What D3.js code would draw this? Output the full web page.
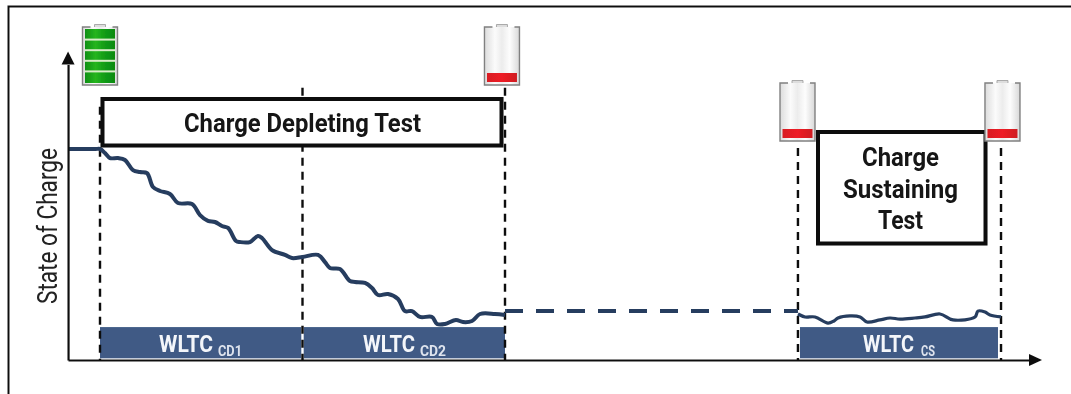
<!DOCTYPE html>
<html>
<head>
<meta charset="utf-8">
<script src="https://cdnjs.cloudflare.com/ajax/libs/d3/7.8.5/d3.min.js"></script>
<style>
  html, body { margin: 0; padding: 0; background: #fff; overflow: hidden; }
  text { font-family: "Roboto", "Liberation Sans", sans-serif; }
</style>
</head>
<body>
<div id="chart"></div>
<script>
// data: time in seconds of test, SOC in percent
var cdTime = [-284, -140, -40, 0, 44, 89, 160, 222, 293, 356, 418, 471, 533, 622, 693, 818, 889, 960, 1022, 1084, 1138, 1209, 1244, 1333, 1404, 1440, 1529, 1644, 1707, 1800, 1938, 2000, 2044, 2133, 2222, 2267, 2356, 2418, 2471, 2560, 2649, 2711, 2773, 2844, 2951, 2996, 3067, 3164, 3227, 3307, 3378, 3511, 3600];
var cdSoc = [100, 100, 100, 100, 98.1, 95.7, 95.7, 94.8, 90, 89.1, 88.6, 82, 80.1, 78.7, 74.4, 73.9, 68.7, 65.9, 65.4, 63.5, 62.6, 56.4, 55.9, 55.9, 58.8, 57.8, 52.1, 49.8, 48.3, 48.8, 49.8, 46.4, 43.6, 43.1, 37.4, 37, 36.5, 34.1, 30.8, 31.3, 28.9, 23.2, 23.2, 20.4, 20.4, 17.1, 17.1, 19, 18, 18.5, 21.8, 21.8, 21.3];
var csTime = [6204, 6267, 6356, 6471, 6524, 6560, 6667, 6756, 6818, 6933, 7022, 7111, 7244, 7333, 7467, 7582, 7778, 7804, 7867, 7911, 8009];
var csSoc = [21.8, 20.4, 20.4, 17.5, 18.5, 19.9, 20.9, 20.4, 18, 19, 19.9, 19.4, 19.9, 20.4, 21.8, 19, 20.4, 23.2, 22.7, 21.3, 20.4];
var linkTime = [3600, 6204];
var linkSoc = [23.2, 23.2];

var cycleStart = [0, 1800, 6222];
var cycleEnd = [1800, 3600, 7982];
var cycleName = ["CD1", "CD2", "CS"];
var markerTime = [0, 1800, 3600, 6204, 8009];
var markerTop = [120, 129, 129, 100.5, 100.5];  // soc level where the dashed line starts

var batteryTime = [0, 3573, 6200, 8022];
var batteryColor = ["green", "red", "red", "red"];

// svg params
var svgWidth = 1071;
var svgHeight = 394;

var svg = d3.select("#chart").append("svg")
  .attr("width", svgWidth)
  .attr("height", svgHeight)
  .style("display", "block");

var defs = svg.append("defs");
defs.append("filter").attr("id", "soft")
  .append("feGaussianBlur").attr("stdDeviation", 0.5);

function hGradient(id, stops) {
  var g = defs.append("linearGradient").attr("id", id);
  stops.forEach(s => g.append("stop").attr("offset", s[0]).attr("stop-color", s[1]));
}
hGradient("shell", [[0, "#dcdcdc"], [0.3, "#fbfbfb"], [0.5, "#ececec"], [0.72, "#fdfdfd"], [1, "#d8d8d8"]]);
hGradient("greenCell", [[0, "#0e8f12"], [0.35, "#25b51f"], [0.65, "#129c16"], [1, "#0c8a10"]]);
hGradient("redCell", [[0, "#d81c24"], [0.5, "#ee1c25"], [1, "#cf1a22"]]);

// scales
var xScale = d3.scaleLinear().domain([0, 3600]).range([100, 505]);
var yScale = d3.scaleLinear().domain([0, 100]).range([360, 149]);

var chart = svg.append("g").attr("filter", "url(#soft)");

// outer frame
chart.append("path")
  .attr("d", "M8.5,394V6.5H1071")
  .attr("fill", "none")
  .attr("stroke", "#111")
  .attr("stroke-width", 2);

// cycle bars
var barTop = 15.6, barBottom = 0.8;
cycleStart.forEach(function(s, i) {
  chart.append("rect")
    .attr("x", xScale(s))
    .attr("y", yScale(barTop))
    .attr("width", xScale(cycleEnd[i]) - xScale(s))
    .attr("height", yScale(barBottom) - yScale(barTop))
    .attr("fill", "#3f5a85");
});

// white under the middle marker inside the bar
chart.append("line")
  .attr("x1", xScale(1800)).attr("x2", xScale(1800))
  .attr("y1", yScale(barTop)).attr("y2", yScale(barBottom))
  .attr("stroke", "#fff").attr("stroke-width", 2.4);

// dashed markers
markerTime.forEach(function(t, i) {
  chart.append("line")
    .attr("x1", xScale(t)).attr("x2", xScale(t))
    .attr("y1", yScale(markerTop[i])).attr("y2", yScale(0))
    .attr("stroke", "#111")
    .attr("stroke-width", 2.4)
    .attr("stroke-dasharray", "8,6");
});

// SOC lines
var line = d3.line()
  .x(d => xScale(d[0]))
  .y(d => yScale(d[1]))
  .curve(d3.curveCatmullRom);

chart.append("path")
  .datum(d3.zip(cdTime, cdSoc))
  .attr("d", line)
  .attr("fill", "none").attr("stroke", "#263c5e").attr("stroke-width", 4).attr("stroke-linejoin", "round");
chart.append("path")
  .datum(d3.zip(csTime, csSoc))
  .attr("d", line)
  .attr("fill", "none").attr("stroke", "#263c5e").attr("stroke-width", 3.2).attr("stroke-linejoin", "round");
chart.append("path")
  .datum(d3.zip(linkTime, linkSoc))
  .attr("d", line)
  .attr("fill", "none").attr("stroke", "#263c5e").attr("stroke-width", 4).attr("stroke-dasharray", "18,13");

// axes, no ticks, arrows added on the ends
var xAxisScale = d3.scaleLinear().domain([-284, 8258]).range([xScale(-284), xScale(8258)]);
var yAxisScale = d3.scaleLinear().domain([0, 140]).range([yScale(0), yScale(140)]);

var xAxisG = chart.append("g")
  .attr("transform", `translate(0, ${yScale(0)})`)
  .call(d3.axisBottom(xAxisScale).tickValues([]).tickSizeOuter(0));
var yAxisG = chart.append("g")
  .attr("transform", `translate(${xScale(-284)}, 0)`)
  .call(d3.axisLeft(yAxisScale).tickValues([]).tickSizeOuter(0));
xAxisG.select(".domain").attr("stroke", "#111").attr("stroke-width", 2.2);
yAxisG.select(".domain").attr("stroke", "#111").attr("stroke-width", 2.2);

var xEnd = xScale(8258), yEnd = yScale(140);
chart.append("path")
  .attr("d", `M${xEnd + 13},${yScale(0)}L${xEnd},${yScale(0) - 6}V${yScale(0) + 6}Z`)
  .attr("fill", "#111");
chart.append("path")
  .attr("d", `M${xScale(-284)},${yEnd - 13}L${xScale(-284) - 6.5},${yEnd}H${xScale(-284) + 6.5}Z`)
  .attr("fill", "#111");

// boxes
function box(x1, y1, x2, y2) {
  chart.append("rect")
    .attr("x", x1).attr("y", y1)
    .attr("width", x2 - x1).attr("height", y2 - y1)
    .attr("fill", "#fff")
    .attr("stroke", "#0c0c0c")
    .attr("stroke-width", 4);
}
box(102.5, 99, 501.5, 145.5);
box(818, 132, 985.5, 243.5);

// text
function label(str, x, y, size, width, weight, fill) {
  return chart.append("text")
    .attr("x", x).attr("y", y)
    .attr("font-size", size)
    .attr("font-weight", weight)
    .attr("fill", fill)
    .attr("textLength", width)
    .attr("lengthAdjust", "spacingAndGlyphs")
    .text(str);
}
label("Charge Depleting Test", 184, 132, 26, 237, "bold", "#151515");
label("Charge", 862, 166, 26, 77, "bold", "#151515");
label("Sustaining", 843, 198, 26, 115, "bold", "#151515");
label("Test", 878, 229, 26, 45, "bold", "#151515");

chart.append("text")
  .attr("transform", "translate(57, 304) rotate(-90)")
  .attr("font-size", 27)
  .attr("fill", "#222")
  .attr("textLength", 156)
  .attr("lengthAdjust", "spacingAndGlyphs")
  .text("State of Charge");

var wltcX = [159, 363, 863];
var wltcW = [54, 52, 51];
var subX = [218, 420, 921];
var subW = [24, 26, 14];
cycleName.forEach(function(n, i) {
  label("WLTC", wltcX[i], 352, 23, wltcW[i], "bold", "#f4f6fa");
  label(n, subX[i], 356, 15, subW[i], "bold", "#dfe4ee");
});

// batteries
function battery(t, color) {
  var w = 37, h = 63;
  var full = color === "green";
  var top = t < 4000 ? 24 : 80;
  var g = chart.append("g")
    .attr("transform", `translate(${xScale(t) - w / 2}, ${top})`);
  g.append("rect").attr("x", 1).attr("y", 3).attr("width", w - 2).attr("height", h - 5)
    .attr("fill", "url(#shell)");
  // side walls and the foot, the top stays open
  g.append("path")
    .attr("d", `M9,3H1V${h - 2}H${w - 1}V3H${w - 6}`)
    .attr("fill", "none").attr("stroke", "#808080").attr("stroke-width", 1.4);
  g.append("path")
    .attr("d", "M13,3V0.5H24V3")
    .attr("fill", "#ddd").attr("stroke", "#999").attr("stroke-width", 0.8);
  if (full) {
    g.append("rect").attr("x", 3.5).attr("y", 5).attr("width", 30).attr("height", 54)
      .attr("fill", "url(#greenCell)");
    d3.range(5).forEach(function(k) {
      if (k === 0) return;
      g.append("line").attr("x1", 3.5).attr("x2", 33.5)
        .attr("y1", 5 + k * 10.6).attr("y2", 5 + k * 10.6)
        .attr("stroke", "#d8ecc8").attr("stroke-width", 2);
    });
  } else {
    g.append("rect").attr("x", 3.5).attr("y", 49).attr("width", 30).attr("height", 9)
      .attr("fill", "url(#redCell)");
  }
}
batteryTime.forEach((t, i) => battery(t, batteryColor[i]));
</script>
</body>
</html>
